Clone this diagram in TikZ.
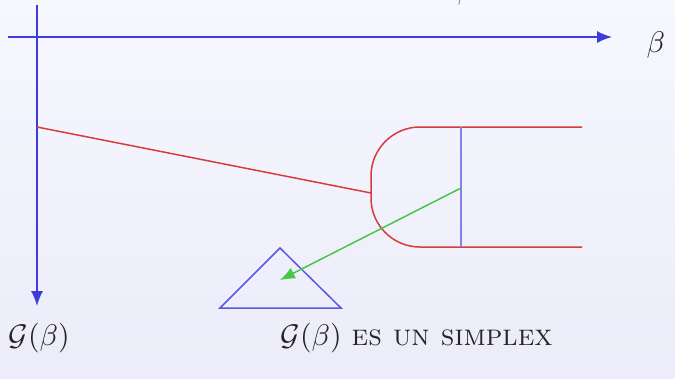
\documentclass[tikz,border=0pt]{standalone}
\usepackage{amsmath,amssymb}
\usepackage{tikz}
\usetikzlibrary{arrows.meta,positioning}
\definecolor{axisblue}{RGB}{60,60,215}
\definecolor{paleblue}{RGB}{130,130,235}
\definecolor{setred}{RGB}{215,60,60}
\definecolor{mapgreen}{RGB}{70,200,70}
\definecolor{bgtop}{RGB}{247,247,254}
\definecolor{bgbot}{RGB}{236,236,250}
\tikzset{
  axis-line/.style={draw=axisblue, line width=0.5pt, -{Latex[length=5pt,width=4pt]}},
  set-line/.style={draw=setred, line width=0.5pt},
  simplex-line/.style={draw=axisblue!85, line width=0.5pt},
  map-arrow/.style={draw=mapgreen, line width=0.5pt, -{Latex[length=5pt,width=4pt]}},
  caption-text/.style={text=black!85, inner sep=0pt, anchor=base west}
}

\begin{document}
\begin{tikzpicture}[>=Latex, x=0.0118cm, y=-0.0118cm]
  % Background
  \clip (0,0) rectangle (675,378);
  \shade[top color=bgtop, bottom color=bgbot] (0,0) rectangle (675,378);

  % Axes
  \coordinate (xstart) at (8,37);
  \coordinate (xend) at (612,37);
  \coordinate (ystart) at (37,5);
  \coordinate (yend) at (37,306);
  \draw[axis-line] (xstart) -- (xend);
  \draw[axis-line] (ystart) -- (yend);
  \node[caption-text] (betalab) at (646,52) {$\beta$};
  \node[caption-text, text=black!60] (toplab) at (457,-1) {$\beta$};

  % Set in the plane
  \coordinate (ymark) at (37,127);
  \coordinate (dleft) at (371,193);
  \draw[set-line, rounded corners=0.578cm] (582,127) -- (371,127) -- (371,247) -- (582,247);
  \draw[set-line] (ymark) -- (dleft);
  \coordinate (cuttop) at (461,127);
  \coordinate (cutbot) at (461,247);
  \draw[draw=paleblue, line width=0.8pt] (cuttop) -- (cutbot);

  % Image simplex
  \coordinate (apex) at (280,248);
  \coordinate (baseleft) at (220,308);
  \coordinate (baseright) at (341,308);
  \draw[simplex-line] (apex) -- (baseleft) -- (baseright) -- cycle;
  \coordinate (mapfrom) at (461,188);
  \coordinate (mapto) at (280,280);
  \draw[map-arrow] (mapfrom) -- (mapto);

  % Captions
  \node[caption-text] (glab) at (8,345) {$\mathcal{G}(\beta)$};
  \node[caption-text] (simplexlab) at (280,345) {$\mathcal{G}(\beta)$ \textsc{es un simplex}};
\end{tikzpicture}
\end{document}
